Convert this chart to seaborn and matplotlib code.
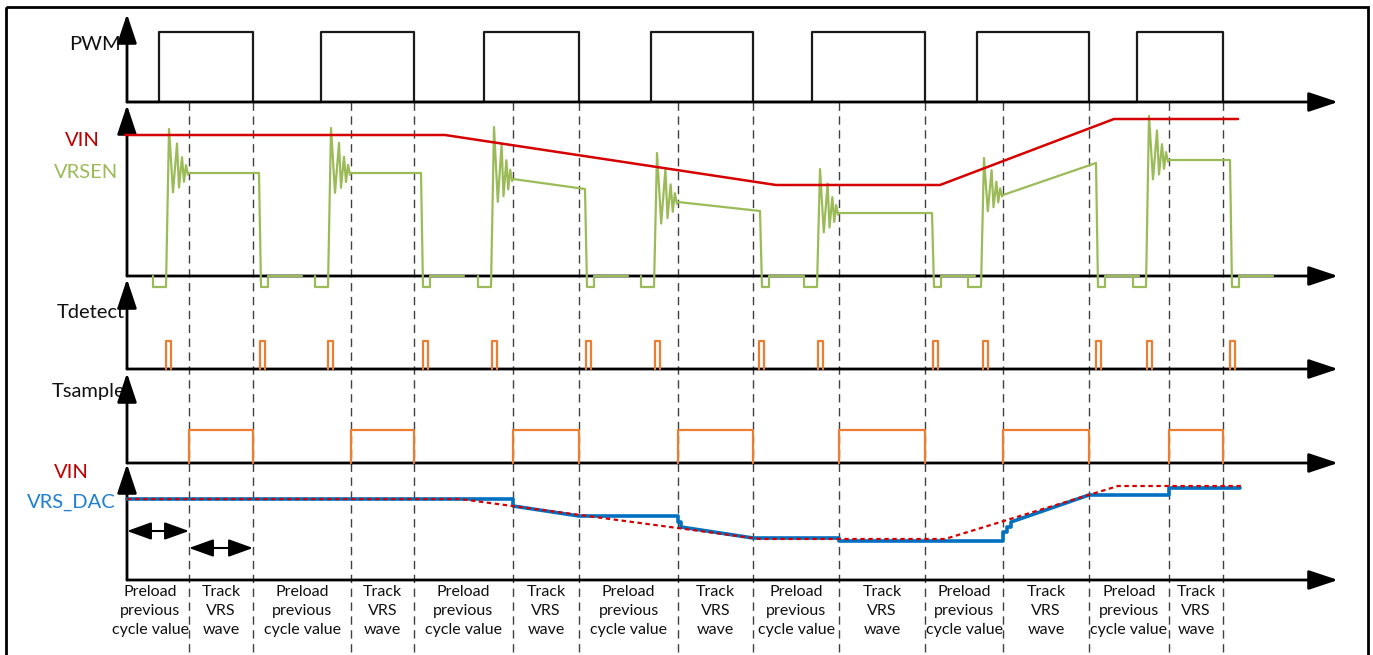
import matplotlib
matplotlib.use("Agg")
import matplotlib.pyplot as plt
from matplotlib.patches import Rectangle
import pandas as pd
import seaborn as sns

# ---- timing (positions along the time axis) ----
pwm_rise = [159, 321, 484, 651, 812, 977, 1137]
pwm_fall = [253, 414, 579, 753, 925, 1089, 1223]
sample_start = [189, 351, 513, 678, 839, 1003, 1169]
detect_at = [168, 262, 330, 425, 494, 588, 657, 761, 820, 935, 985, 1098, 1149, 1232]

# VIN in the VRSEN panel (corner points, height above baseline)
vin_t = [125, 445, 776, 940, 1114, 1238]
vin_v = [141, 141, 91, 91, 157, 157]

# VRSEN, one entry per switching cycle
vrsen_on = [166, 328, 491, 654, 817, 981, 1146]
vrsen_off = [259, 421, 585, 760, 932, 1096, 1230]
vrsen_peak = [147, 148, 149, 123, 107, 118, 160]
vrsen_flat_start = [103, 103, 97, 74, 63, 81, 116]
vrsen_flat_end = [103, 103, 87, 65, 63, 113, 116]
# ringing shape after the rising edge (fraction of settle time, fraction of overshoot)
ring_pos = [0, 0.2, 0.4, 0.5, 0.65, 0.75, 0.85, 0.95, 1.0]
ring_amp = [1, -0.44, 0.67, -0.33, 0.36, -0.2, 0.18, -0.04, 0]
dip_depth = -11

# VIN (dotted) and VRS_DAC in the bottom panel
vin_ref_t = [127, 460, 760, 945, 1118, 1243]
vin_ref_v = [81, 81, 41, 41, 94, 94]
dac_t = [127, 513, 513, 579, 678, 678, 681, 681, 753, 839, 839, 1003, 1003,
         1007, 1007, 1011, 1011, 1089, 1169, 1169, 1240]
dac_v = [81, 81, 74, 64, 64, 58, 58, 53, 42, 42, 39, 39, 48,
         48, 53, 53, 58, 85, 85, 92, 92]

pwm_high = 70
detect_high = 28
sample_high = 33

phase_names = ["Preload\nprevious\ncycle value", "Track\nVRS\nwave"]

# ---- layout (pixel canvas) ----
W, H = 1373, 655
X0, X_END = 127, 1338
PANELS = {  # name: (baseline, arrow tip)
    "pwm": (102, 14),
    "vrsen": (276, 105),
    "tdet": (369, 279),
    "tsam": (463, 373),
    "dac": (580, 464),
}

GREEN = "#9BBB59"
RED = "#D60000"
ORANGE = "#ED7D31"
BLUE = "#0070C0"

sns.set_style("white")
plt.rcParams["font.family"] = ["Lato", "DejaVu Sans"]

fig = plt.figure(figsize=(W / 100, H / 100), dpi=100)
ax = fig.add_axes([0, 0, 1, 1])


def trace(parts, panel, color, lw, ls="-", z=3):
    base = PANELS[panel][0]
    rows = []
    for k, (xs, vs) in enumerate(parts):
        for x, v in zip(xs, vs):
            rows.append((k, x, base - v))
    df = pd.DataFrame(rows, columns=["seg", "t", "y"])
    sns.lineplot(data=df, x="t", y="y", units="seg", estimator=None, sort=False,
                 color=color, lw=lw, linestyle=ls, ax=ax, legend=False, zorder=z)


def arrow(p0, p1, style="-|>,head_length=0.9,head_width=0.3", lw=2, scale=20):
    ax.annotate("", xy=p1, xytext=p0,
                arrowprops=dict(arrowstyle=style, mutation_scale=scale, lw=lw,
                                color="black", shrinkA=0, shrinkB=0), zorder=6)


# axes with arrows
for name, (base, tip) in PANELS.items():
    arrow((X0, base), (X0, tip))
    arrow((X0, base), (X_END, base))

# dashed phase boundaries
ax.vlines(sorted(sample_start + pwm_fall), PANELS["pwm"][0], H + 5,
          colors="#404040", linestyles=(0, (6, 4)), lw=1, zorder=2)

# PWM
xs, vs = [X0], [0]
for r, f in zip(pwm_rise, pwm_fall):
    xs += [r, r, f, f]
    vs += [0, pwm_high, pwm_high, 0]
xs.append(1240)
vs.append(0)
trace([(xs, vs)], "pwm", "#1a1a1a", 1.6)

# VIN and VRSEN
parts = []
for on, off, pk, fs, fe, ss in zip(vrsen_on, vrsen_off, vrsen_peak,
                                    vrsen_flat_start, vrsen_flat_end, sample_start):
    px = on + 3
    xs = [on - 13, on - 13, on]
    vs = [0, dip_depth, dip_depth]
    for p, a in zip(ring_pos, ring_amp):
        xs.append(px + p * (ss - px))
        vs.append(fs + a * (pk - fs))
    xs += [off, off + 2, off + 9, off + 9, off + 43]
    vs += [fe, dip_depth, dip_depth, 0, 0]
    parts.append((xs, vs))
trace(parts, "vrsen", GREEN, 1.6, z=7)
trace([(vin_t, vin_v)], "vrsen", RED, 1.8, z=7)

# Tdetect
parts = [([c - 2.5, c - 2.5, c + 2.5, c + 2.5], [0, detect_high, detect_high, 0])
         for c in detect_at]
trace(parts, "tdet", ORANGE, 1.6, z=7)

# Tsample
parts = [([s, s, f, f], [0, sample_high, sample_high, 0])
         for s, f in zip(sample_start, pwm_fall)]
trace(parts, "tsam", ORANGE, 1.6, z=7)

# VRS_DAC and VIN reference
trace([(dac_t, dac_v)], "dac", BLUE, 2.6, z=7)
trace([(vin_ref_t, vin_ref_v)], "dac", RED, 1.6, ls=(0, (2, 1.6)), z=8)

# phase arrows
arrow((X0, 531), (sample_start[0], 531), "<|-|>,head_length=0.75,head_width=0.27", 1.5)
arrow((sample_start[0], 548), (pwm_fall[0], 548), "<|-|>,head_length=0.75,head_width=0.27", 1.5)

# signal names
lab = dict(ha="right", va="center", fontsize=14.5)
ax.text(121, 44, "PWM", color="#111111", **lab)
ax.text(100, 141, "VIN", color="#C00000", **lab)
ax.text(118, 173, "VRSEN", color=GREEN, **lab)
ax.text(125, 312, "Tdetect", color="#111111", **lab)
ax.text(125, 392, "Tsample", color="#111111", **lab)
ax.text(89, 473, "VIN", color="#C00000", **lab)
ax.text(116, 502, "VRS_DAC", color="#1F7FD0", **lab)

# phase names under the time axis
edges = [X0]
for s, f in zip(sample_start, pwm_fall):
    edges += [s, f]
for i in range(len(edges) - 1):
    cx = (edges[i] + edges[i + 1]) / 2
    if i == 0:
        cx -= 8
    ax.text(cx, 585, phase_names[i % 2], ha="center", va="top", fontsize=11.5,
            linespacing=1.45, color="#111111", zorder=9)

# outer frame
ax.add_patch(Rectangle((6, 7), 1362, 700, fill=False, lw=2, ec="black", zorder=10))

ax.set_xlim(0, W)
ax.set_ylim(H, 0)
ax.set_axis_off()
fig.savefig("out.png", dpi=100)
